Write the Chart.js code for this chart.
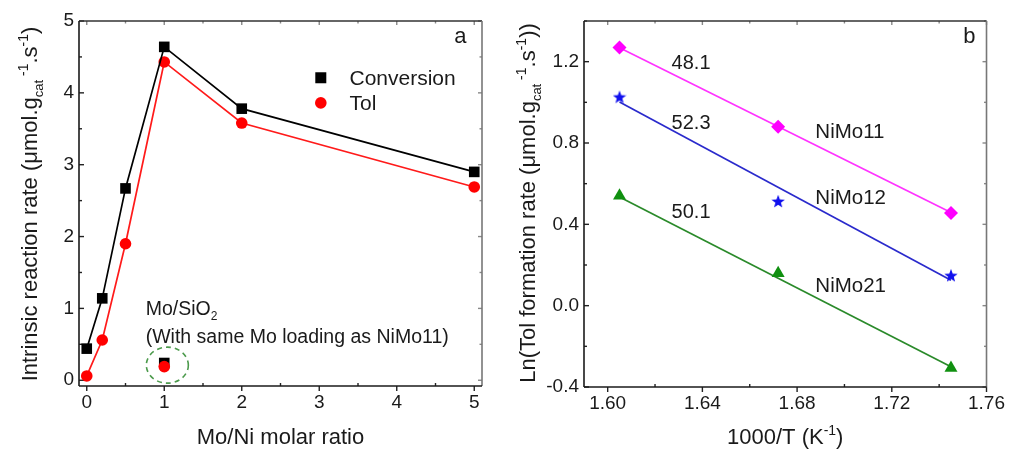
<!DOCTYPE html>
<html><head><meta charset="utf-8">
<script src="https://cdn.jsdelivr.net/npm/chart.js@4.4.0/dist/chart.umd.min.js"></script>
<style>
html,body{margin:0;padding:0;background:#fff;}
#wrap{position:relative;width:1010px;height:449px;overflow:hidden;}
canvas{position:absolute;top:0;}
</style></head><body>
<div id="wrap">
<canvas id="ca" width="500" height="449" style="left:0"></canvas>
<canvas id="cb" width="510" height="449" style="left:500px"></canvas>
</div>
<script>
// ---------- Panel a data ----------
const ratioX = [0, 0.2, 0.5, 1, 2, 5];
const conversion = [0.44, 1.14, 2.67, 4.64, 3.78, 2.90];
const tol = [0.06, 0.56, 1.90, 4.43, 3.58, 2.69];
const moSiO2X = [1];
const moSiO2Conversion = [0.24];
const moSiO2Tol = [0.19];
const ticksAX = [0, 1, 2, 3, 4, 5];
const minorAX = [0.5, 1.5, 2.5, 3.5, 4.5];
const ticksAY = [0, 1, 2, 3, 4, 5];
const minorAY = [0.5, 1.5, 2.5, 3.5, 4.5];

// ---------- Panel b data ----------
const invT = [1.605, 1.672, 1.745];
const nimo11 = [1.27, 0.88, 0.456];
const nimo12 = [1.028, 0.515, 0.15];
const nimo21 = [0.54, 0.16, -0.307];
const fitX = [1.605, 1.745];
const fit11 = [1.268, 0.458];
const fit12 = [1.002, 0.125];
const fit21 = [0.535, -0.300];
const energies = ['48.1', '52.3', '50.1'];
const seriesNames = ['NiMo11', 'NiMo12', 'NiMo21'];
const ticksBX = [1.60, 1.64, 1.68, 1.72, 1.76];
const tickLabelsBX = ['1.60', '1.64', '1.68', '1.72', '1.76'];
const minorBX = [1.62, 1.66, 1.70, 1.74];
const ticksBY = [-0.4, 0, 0.4, 0.8, 1.2];
const tickLabelsBY = ['-0.4', '0.0', '0.4', '0.8', '1.2'];
const minorBY = [-0.2, 0.2, 0.6, 1.0, 1.4];

const FONT = '"Liberation Sans", Arial, Helvetica, sans-serif';
Chart.defaults.font.family = FONT;
Chart.defaults.color = '#1a1a1a';

const pts = (xs, ys) => xs.map((x, i) => ({x: x, y: ys[i]}));

function drawRich(ctx, segs, x, y, opts) {
  const base = opts.size, align = opts.align || 'center';
  const fnt = s => (s.k === 'n' ? base : (s.k === 'sub' ? opts.subSize : opts.supSize)) + 'px ' + FONT;
  ctx.save();
  ctx.translate(x, y);
  if (opts.rotate) ctx.rotate(-Math.PI / 2);
  let total = 0;
  const widths = segs.map(s => { ctx.font = fnt(s); const w = ctx.measureText(s.t).width; total += w; return w; });
  let cx = align === 'center' ? -total / 2 : 0;
  const bl = base * 0.716 / 2;
  ctx.fillStyle = opts.color || '#1a1a1a';
  ctx.textAlign = 'left';
  ctx.textBaseline = 'alphabetic';
  segs.forEach((s, i) => {
    ctx.font = fnt(s);
    const dy = s.k === 'sub' ? base * 0.28 : (s.k === 'sup' ? -base * 0.42 : 0);
    ctx.fillText(s.t, cx, bl + dy);
    cx += widths[i];
  });
  ctx.restore();
}

function drawFrame(chart, c) {
  const {ctx, chartArea: a, scales: {x, y}} = chart;
  ctx.save();
  ctx.lineWidth = 1.4;
  const ln = (x1, y1, x2, y2, col) => { ctx.strokeStyle = col; ctx.beginPath(); ctx.moveTo(x1, y1); ctx.lineTo(x2, y2); ctx.stroke(); };
  c.xMajor.forEach(v => { const p = x.getPixelForValue(v); ln(p, a.bottom, p, a.bottom + 5, '#222'); ln(p, a.top, p, a.top + 4, '#888'); });
  c.xMinor.forEach(v => { const p = x.getPixelForValue(v); ln(p, a.bottom - 3, p, a.bottom, '#222'); ln(p, a.top, p, a.top + 2.5, '#888'); });
  c.yMajor.forEach(v => { const p = y.getPixelForValue(v); ln(a.left, p, a.left + 5, p, '#222'); ln(a.right - 4, p, a.right, p, '#888'); });
  c.yMinor.forEach(v => { const p = y.getPixelForValue(v); ln(a.left, p, a.left + 3, p, '#222'); ln(a.right - 2.5, p, a.right, p, '#888'); });
  ctx.lineWidth = 1.6;
  ln(a.left, a.top, a.right, a.top, '#333');
  ln(a.right, a.top, a.right, a.bottom, '#777');
  ln(a.left, a.top, a.left, a.bottom, '#1a1a1a');
  ln(a.left, a.bottom, a.right, a.bottom, '#1a1a1a');
  ctx.restore();
}

function fixedScale(min, max, ticks, labels, pad, sizeFn) {
  return {
    type: 'linear', min: min, max: max,
    afterBuildTicks: s => { s.ticks = ticks.map(v => ({value: v})); },
    ticks: { font: {size: 19}, color: '#1a1a1a', padding: pad, autoSkip: false, maxRotation: 0,
      callback: (v, i) => labels[i] },
    grid: { display: false, drawTicks: false },
    border: { display: false },
    afterFit: sizeFn
  };
}

// ---------- Chart a ----------
const plugA = {
  id: 'plugA',
  beforeDatasetsDraw(chart) {
    drawFrame(chart, {xMajor: ticksAX, xMinor: minorAX, yMajor: ticksAY, yMinor: minorAY});
  },
  afterDraw(chart) {
    const {ctx, chartArea: a, scales: {x, y}} = chart;
    // dashed ellipse around Mo/SiO2
    ctx.save();
    ctx.strokeStyle = '#4c9a4c'; ctx.lineWidth = 1.6; ctx.setLineDash([5, 4]);
    ctx.beginPath();
    ctx.ellipse(x.getPixelForValue(1.04), y.getPixelForValue(0.21), 21, 18, 0, 0, Math.PI * 2);
    ctx.stroke();
    ctx.restore();
    // annotation
    drawRich(ctx, [{t: 'Mo/SiO', k: 'n'}, {t: '2', k: 'sub'}], x.getPixelForValue(0.76), y.getPixelForValue(1.01), {size: 19.5, subSize: 12, supSize: 12, align: 'left'});
    drawRich(ctx, [{t: '(With same Mo loading as NiMo11)', k: 'n'}], x.getPixelForValue(0.76), y.getPixelForValue(0.61), {size: 19.5, subSize: 12, supSize: 12, align: 'left'});
    // legend
    const lx = x.getPixelForValue(3.02);
    ctx.save();
    ctx.fillStyle = '#000';
    ctx.fillRect(lx - 5.5, y.getPixelForValue(4.21) - 5.5, 11, 11);
    ctx.fillStyle = '#ff0000';
    ctx.beginPath(); ctx.arc(lx, y.getPixelForValue(3.86), 5.8, 0, Math.PI * 2); ctx.fill();
    ctx.restore();
    drawRich(ctx, [{t: 'Conversion', k: 'n'}], x.getPixelForValue(3.39), y.getPixelForValue(4.21), {size: 21, align: 'left'});
    drawRich(ctx, [{t: 'Tol', k: 'n'}], x.getPixelForValue(3.39), y.getPixelForValue(3.86), {size: 21, align: 'left'});
    // panel letter
    drawRich(ctx, [{t: 'a', k: 'n'}], x.getPixelForValue(4.82), y.getPixelForValue(4.80), {size: 22});
    // axis titles
    drawRich(ctx, [{t: 'Mo/Ni molar ratio', k: 'n'}], (a.left + a.right) / 2, 436, {size: 22});
    drawRich(ctx, [
      {t: 'Intrinsic reaction rate (\u03bcmol.g', k: 'n'}, {t: 'cat', k: 'sub'}, {t: ' -1', k: 'sup'},
      {t: '.s', k: 'n'}, {t: '-1', k: 'sup'}, {t: ')', k: 'n'}
    ], 29, 204, {size: 22, subSize: 13, supSize: 14, rotate: true});
  }
};

new Chart(document.getElementById('ca'), {
  type: 'scatter',
  data: {
    datasets: [
      {label: 'Mo/SiO2 Tol', data: pts(moSiO2X, moSiO2Tol), showLine: false, pointStyle: 'circle', pointRadius: 5.8,
       backgroundColor: '#ff0000', borderColor: '#ff0000', pointBorderWidth: 0},
      {label: 'Mo/SiO2 Conversion', data: pts(moSiO2X, moSiO2Conversion), showLine: false, pointStyle: 'rect', pointRadius: 7.5,
       backgroundColor: '#000', borderColor: '#000', pointBorderWidth: 0},
      {label: 'Conversion', data: pts(ratioX, conversion), showLine: true, tension: 0, borderWidth: 1.7,
       pointStyle: 'rect', pointRadius: 7.5, backgroundColor: '#000', borderColor: '#000', pointBorderWidth: 0},
      {label: 'Tol', data: pts(ratioX, tol), showLine: true, tension: 0, borderWidth: 1.7,
       pointStyle: 'circle', pointRadius: 5.8, backgroundColor: '#ff0000', borderColor: '#ff1a1a', pointBorderWidth: 0}
    ]
  },
  options: {
    responsive: false, animation: false, devicePixelRatio: 1,
    layout: {padding: {top: 21, right: 18, left: 0, bottom: 0}},
    plugins: {legend: {display: false}, tooltip: {enabled: false}},
    scales: {
      x: fixedScale(-0.1, 5.1, ticksAX, ticksAX.map(String), 5, s => { s.height = 63; }),
      y: fixedScale(-0.08, 5, ticksAY, ticksAY.map(String), 5, s => { s.width = 79; })
    }
  },
  plugins: [plugA]
});

// ---------- Chart b ----------
function starCanvas(size, color) {
  const c = document.createElement('canvas');
  c.width = c.height = size;
  const g = c.getContext('2d');
  g.fillStyle = color;
  g.beginPath();
  const cx = size / 2, cy = size / 2 + 0.8, R = size / 2, r = R * 0.42;
  for (let i = 0; i < 10; i++) {
    const ang = -Math.PI / 2 + i * Math.PI / 5;
    const rr = i % 2 ? r : R;
    g.lineTo(cx + rr * Math.cos(ang), cy + rr * Math.sin(ang));
  }
  g.closePath();
  g.fill();
  return c;
}
const star = starCanvas(14, '#1010ee');

const plugB = {
  id: 'plugB',
  beforeDatasetsDraw(chart) {
    drawFrame(chart, {xMajor: ticksBX, xMinor: minorBX, yMajor: ticksBY, yMinor: minorBY});
  },
  afterDraw(chart) {
    const {ctx, chartArea: a, scales: {x, y}} = chart;
    const eY = [1.2, 0.905, 0.467];
    energies.forEach((t, i) => drawRich(ctx, [{t: t, k: 'n'}], x.getPixelForValue(1.627), y.getPixelForValue(eY[i]), {size: 20, align: 'left'}));
    const nY = [0.861, 0.536, 0.102];
    seriesNames.forEach((t, i) => drawRich(ctx, [{t: t, k: 'n'}], x.getPixelForValue(1.6877), y.getPixelForValue(nY[i]), {size: 20.5, align: 'left'}));
    drawRich(ctx, [{t: 'b', k: 'n'}], x.getPixelForValue(1.7528), y.getPixelForValue(1.33), {size: 22});
    drawRich(ctx, [{t: '1000/T (K', k: 'n'}, {t: '-1', k: 'sup'}, {t: ')', k: 'n'}], (a.left + a.right) / 2, 436, {size: 22, subSize: 13, supSize: 14});
    drawRich(ctx, [
      {t: 'Ln(Tol formation rate (\u03bcmol.g', k: 'n'}, {t: 'cat', k: 'sub'}, {t: ' -1', k: 'sup'},
      {t: '.s', k: 'n'}, {t: '-1', k: 'sup'}, {t: '))', k: 'n'}
    ], 27, 203, {size: 22, subSize: 13, supSize: 14, rotate: true});
  }
};

new Chart(document.getElementById('cb'), {
  type: 'scatter',
  data: {
    datasets: [
      {label: 'NiMo11', data: pts(invT, nimo11), showLine: false, pointStyle: 'rectRot', pointRadius: 7,
       backgroundColor: '#ff00ff', borderColor: '#ff00ff', pointBorderWidth: 0},
      {label: 'NiMo12', data: pts(invT, nimo12), showLine: false, pointStyle: star, pointRadius: 7},
      {label: 'NiMo21', data: pts(invT, nimo21), showLine: false, pointStyle: 'triangle', pointRadius: 7.5,
       backgroundColor: '#109010', borderColor: '#109010', pointBorderWidth: 0},
      {label: 'fit11', data: pts(fitX, fit11), showLine: true, pointRadius: 0, borderColor: '#ff33ff', borderWidth: 1.7},
      {label: 'fit12', data: pts(fitX, fit12), showLine: true, pointRadius: 0, borderColor: '#2a2acc', borderWidth: 1.7},
      {label: 'fit21', data: pts(fitX, fit21), showLine: true, pointRadius: 0, borderColor: '#2a8a2a', borderWidth: 1.7}
    ]
  },
  options: {
    responsive: false, animation: false, devicePixelRatio: 1,
    layout: {padding: {top: 21, right: 23, left: 0, bottom: 0}},
    plugins: {legend: {display: false}, tooltip: {enabled: false}},
    scales: {
      x: fixedScale(1.59, 1.76, ticksBX, tickLabelsBX, 5, s => { s.height = 62; }),
      y: fixedScale(-0.4, 1.4, ticksBY, tickLabelsBY, 5, s => { s.width = 84; })
    }
  },
  plugins: [plugB]
});
</script>
</body></html>
